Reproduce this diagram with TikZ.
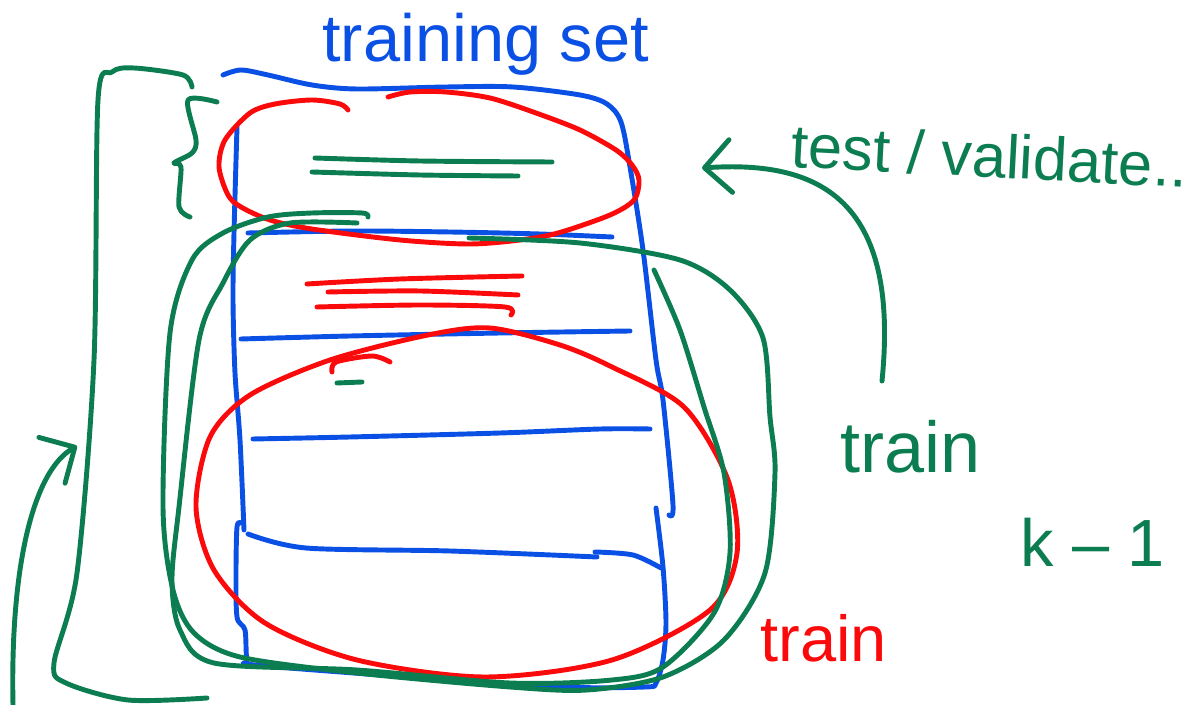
\documentclass[tikz,border=0pt]{standalone}
\usepackage{fontspec}
\setmainfont{Liberation Sans}
\usetikzlibrary{arrows.meta}
\definecolor{penblue}{HTML}{0A50E4}
\definecolor{pengreen}{HTML}{0B7D50}
\definecolor{penred}{HTML}{FA0A0A}

\begin{document}
\begin{tikzpicture}[x = 0.02cm, y = -0.02cm,
		pen/.style = {line width = 2.8pt, line cap = round, line join = round},
		bluepen/.style = {pen, penblue},
		greenpen/.style = {pen, pengreen},
		redpen/.style = {pen, penred},
		barb/.style = {-{Straight Barb[length = 15pt, width = 30pt, round]}},
		hand/.style = {inner sep = 0pt, anchor = base west, font = \fontsize{38}{40}\selectfont}]
			\useasboundingbox (0,0) rectangle (1201,705);

			% the training set box and its folds
			\begin{scope}[bluepen]
				\draw plot [smooth] coordinates {(223,75) (241,70) (268,75) (312,85) (357,89) (446,87) (513,87) (580,95) (607,104) (621,122) (630,167) (643,250) (656,360) (663,400) (673,505) (669,515)};
				\draw plot [smooth] coordinates {(656,508) (663,567) (666,623) (663,660) (656,683) (645,687) (561,687) (408,677) (255,665) (247,660) (245,630) (237,617) (236,573) (237,527) (241,523)};
				\draw plot [smooth] coordinates {(244,530) (240,440) (235,373) (233,300) (234,233) (237,127)};
				\draw plot [smooth] coordinates {(248,233) (350,231) (450,232) (540,234) (612,237)};
				\draw plot [smooth] coordinates {(241,339) (350,336) (500,333) (630,331)};
				\draw plot [smooth] coordinates {(253,439) (350,437) (500,433) (600,429) (650,429)};
				\draw plot [smooth] coordinates {(248,534) (306,548) (450,551) (597,557)};
				\draw plot [smooth] coordinates {(595,552) (633,555) (661,568)};
			\end{scope}

			% test fold and the rest
			\begin{scope}[redpen]
				\draw plot [smooth] coordinates {(348,110) (340,104) (312,100) (275,104) (250,113) (225,140) (219,167) (228,195) (241,207) (270,220) (312,229) (400,240) (469,244) (520,240) (558,233) (610,215) (634,200) (639,180) (632,165) (616,150) (580,130) (536,113) (490,98) (446,92) (410,92) (388,97)};
				\draw plot [smooth cycle] coordinates {(428,335) (490,328) (560,345) (612,367) (684,407) (728,480) (737,553) (710,610) (612,660) (485,677) (357,660) (265,623) (214,570) (196,507) (210,437) (250,395) (330,360)};
				\draw plot [smooth] coordinates {(332,372) (336,362) (372,356) (390,362)};
				\draw plot [smooth] coordinates {(307,284) (400,279) (522,276)};
				\draw plot [smooth] coordinates {(328,292) (420,291) (518,295)};
				\draw plot [smooth] coordinates {(317,307) (420,305) (505,307) (511,315)};
			\end{scope}

			\begin{scope}[greenpen]
				\draw plot [smooth] coordinates {(315,158) (420,161) (552,162)};
				\draw plot [smooth] coordinates {(312,172) (420,175) (518,176)};
				\draw (337,383) -- (362,382);
				% brace and bracket
				\draw plot [smooth] coordinates {(217,102) (188,100) (196,140) (192,153) (174,163) (181,167) (179,207) (190,217)};
				\draw plot [smooth] coordinates {(192,87) (183,75) (134,68) (112,72) (98,100) (94,360) (77,573) (54,663) (66,683) (128,700) (207,698)};
				% train folds
				\draw plot [smooth] coordinates {(368,217) (362,213) (312,213) (268,217) (223,233) (192,260) (170,333) (163,507) (173,590) (194,633) (240,657) (357,673) (510,687) (587,690) (663,677) (724,640) (765,573) (775,473) (770,417) (763,338) (730,290) (680,260) (580,243) (469,238)};
				\draw plot [smooth] coordinates {(357,223) (290,223) (250,240) (223,283) (199,340) (179,507) (172,580) (180,630) (214,663) (357,670) (510,683) (612,680) (663,667) (714,613) (730,553) (724,473) (704,407) (680,330) (654,270)};
			\end{scope}

			% labels
			\node [hand, penblue] (trainingset) at (322,62) {training set};
			\node [hand, pengreen, rotate = -3, font = \fontsize{35}{40}\selectfont] (testval) at (790,167) {test / validate..};
			\node [hand, pengreen, font = \fontsize{41}{44}\selectfont] (traingreen) at (840,473) {train};
			\node [hand, pengreen] (kminus) at (1020,567) {k – 1};
			\node [hand, penred, font = \fontsize{37}{40}\selectfont] (trainred) at (760,662) {train};

			% arrows
			\coordinate (upfrom) at (882,381);
			\coordinate (upto) at (702,168);
			\coordinate (loopfrom) at (13,705);
			\coordinate (loopto) at (77,446);
			\draw [greenpen, barb] (upfrom) .. controls (900,200) and (820,160) .. (upto);
			\draw [greenpen, barb] (loopfrom) .. controls (10,560) and (35,470) .. (loopto);
		\end{tikzpicture}
\end{document}
